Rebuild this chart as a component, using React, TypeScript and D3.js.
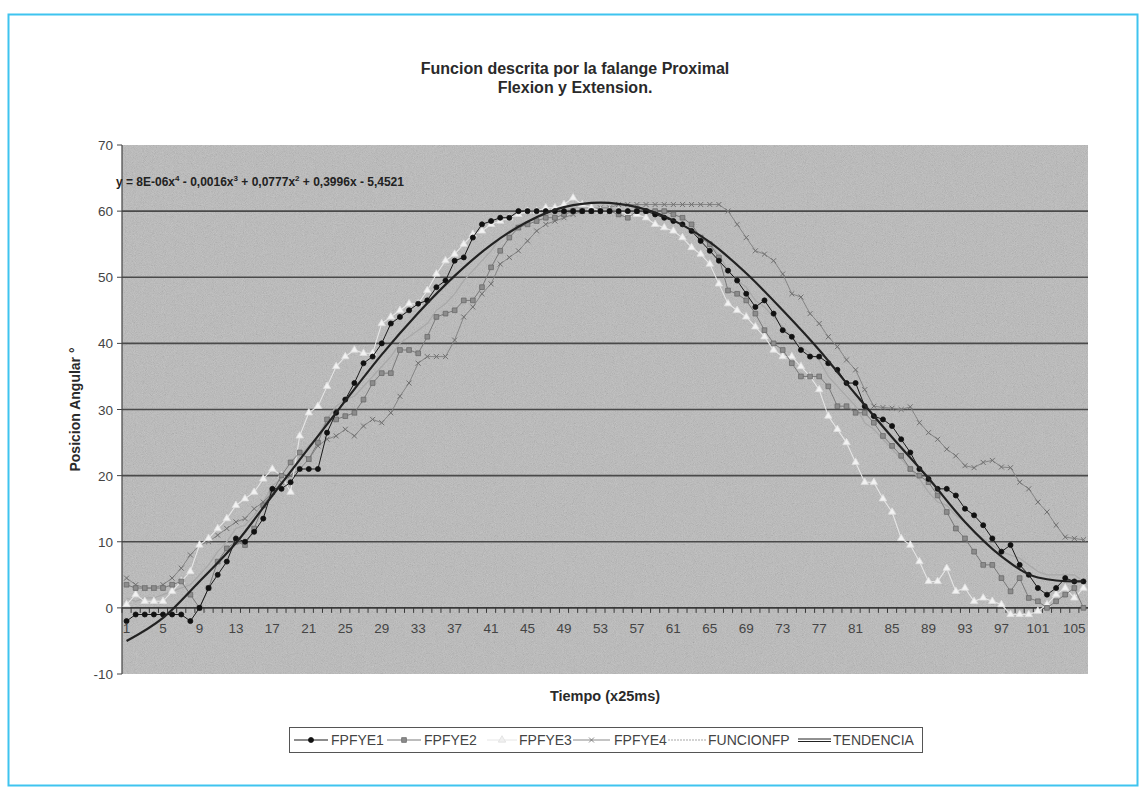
import React from 'react';
import * as d3 from 'd3';

const CATEGORIES: number[] = d3.range(1, 107);
const X_TICK_LABELS = ['1','5','9','13','17','21','25','29','33','37','41','45','49','53','57','61','65','69','73','77','81','85','89','93','97','101','105'];
const Y_TICKS = [-10, 0, 10, 20, 30, 40, 50, 60, 70];

const FPFYE1 = [
  -2, -1, -1, -1, -1, -1, -1, -2, 0, 3,
  5, 7, 10.5, 10, 11.5, 13.5, 18, 18, 19, 21,
  21, 21, 26.5, 29.5, 31.5, 34, 37, 38, 40, 43,
  44, 45, 46, 46.5, 48.5, 49.5, 52.5, 53, 56, 58,
  58.5, 59, 59, 60, 60, 60, 60, 60, 60, 60,
  60, 60, 60, 60, 60, 60, 60, 60, 59.5, 59,
  58.5, 58, 57, 55.5, 54, 52.5, 51, 49.5, 47.5, 45.5,
  46.5, 44.5, 42, 41, 39, 38, 38, 37, 36, 34,
  34, 30.5, 29, 28.5, 27.5, 25.5, 23.5, 21, 19.5, 18,
  18, 17, 15, 14, 12.5, 10.5, 8.5, 9.5, 6.5, 5,
  3, 2, 3, 4.5, 4, 4,
];
const FPFYE2 = [
  3.5, 3, 3, 3, 3, 3.5, 4, 2, 0, 3,
  7, 9, 10, 9.5, 12, 15.5, 17.5, 20, 22, 23.5,
  22.5, 25, 28.5, 28.5, 29, 29.5, 31.5, 34, 35.5, 35.5,
  39, 39, 38.5, 41, 44, 44.5, 45, 46.5, 46.5, 48.5,
  51.5, 54, 56, 57.5, 58, 58.5, 59, 59, 59.5, 60,
  60, 60, 60, 60, 59.5, 59, 60, 60, 60, 60,
  59.5, 59, 58, 56, 55, 53, 48, 47.5, 46.5, 44.5,
  42, 40, 39, 37, 35, 35, 35, 33.5, 30.5, 30.5,
  29.5, 29.5, 28, 26, 24.5, 23, 21, 20, 19, 17,
  14.5, 12, 10.5, 8.5, 6.5, 6.5, 4.5, 2.5, 4.5, 1.5,
  1, 0, 1, 2, 3, 0,
];
const FPFYE3 = [
  0.5, 2, 1, 1, 1, 2.5, 4, 5.5, 9.5, 10.5,
  12, 13.5, 15.5, 16.5, 17.5, 19.5, 21, 20, 17.5, 26,
  29.5, 30.5, 33.5, 36.5, 38, 39, 38.5, 38.5, 43, 44,
  45, 46, 46, 48, 50.5, 52.5, 53.5, 55, 56.5, 57,
  58, 58.5, 59, 59.5, 60, 60, 60.5, 60.5, 61, 62,
  61, 60.5, 60, 60, 60, 59.5, 59.5, 59, 58, 57.5,
  57, 56, 54.5, 53.5, 52, 49, 46, 45, 44, 42.5,
  41, 39, 38, 38, 36.5, 35, 33, 29, 27, 25,
  22, 19, 19, 16.5, 14.5, 10.5, 9.5, 7, 4, 4,
  6, 2.5, 3, 1, 1.5, 1, 0.5, -1, -1, -1,
  -0.5, 0.5, 2, 3, 1.5, 3,
];
const FPFYE4 = [
  4.5, 3.5, 3, 3, 3.5, 4.5, 6, 8, 9.5, 10,
  11, 12, 13, 13.5, 15, 16, 17.5, 19, 20, 21,
  22.5, 24.5, 25.5, 26, 27, 26, 27.5, 28.5, 28, 29.5,
  32, 34, 37, 38, 38, 38, 40.5, 44, 45.5, 47.5,
  49, 52, 53, 54, 55.5, 57, 58, 58.5, 59, 59.5,
  60, 60, 60.5, 60.5, 61, 61, 61, 61, 61, 61,
  61, 61, 61, 61, 61, 61, 60, 58, 56, 54,
  53.5, 52.5, 50.5, 47.5, 47, 44.5, 43, 41, 39.5, 37.5,
  36, 33, 30.5, 30.3, 30.2, 30, 30.4, 28, 26.5, 25.5,
  24, 23, 21.5, 21.2, 22, 22.3, 21.3, 21.2, 19, 18,
  16, 14.5, 12.5, 10.7, 10.5, 10.3,
];
const FUNCIONFP = [
  1.5, 1, 1.5, 1.5, 2, 2.5, 3, 3.5, 5, 6.5,
  8.5, 10, 12, 12.5, 14, 16, 18.5, 19.5, 19.5, 23,
  24.5, 26, 28.5, 30.5, 31.5, 32, 33.5, 35, 36.5, 38,
  40, 41, 42, 43, 45, 46, 47.5, 49.5, 51, 52.5,
  54, 56, 57, 58, 58.5, 59, 59.5, 59.5, 60, 60.5,
  60.5, 60.5, 60.5, 60.5, 60, 60, 60, 60, 59.5, 59,
  58.5, 58, 57, 56, 55, 53.5, 51, 49.5, 48.5, 46.5,
  45.5, 44, 42.5, 41, 39.5, 38.5, 37.5, 35, 33.5, 32,
  30.5, 28, 27, 25.5, 24, 22.5, 21, 19.5, 17.5, 16,
  15.5, 14, 13, 11.5, 10.5, 9.5, 8.5, 8, 7.5, 6.5,
  5.5, 5, 5, 5, 5, 4,
];
const TREND_CATS = [1, 5, 9, 13, 17, 21, 25, 29, 33, 37, 41, 45, 49, 53, 57, 61, 65, 69, 73, 77, 81, 85, 89, 93, 97, 101, 105, 106];
const TENDENCIA = [-5, -1.5, 4, 9.8, 17, 24.2, 31.3, 38.3, 44.6, 50.2, 54.9, 58.4, 60.6, 61.3, 60.6, 58.6, 55.3, 50.6, 45, 39, 32.3, 25.8, 19.6, 13, 7.8, 4.6, 4, 4];

const EQUATION = ['y = 8E-06x', '4', ' - 0,0016x', '3', ' + 0,0777x', '2', ' + 0,3996x - 5,4521'];
const TITLE = ['Funcion descrita por la falange Proximal', 'Flexion y Extension.'];
const LEGEND = ['FPFYE1', 'FPFYE2', 'FPFYE3', 'FPFYE4', 'FUNCIONFP', 'TENDENCIA'];

const W = 1143, H = 789;
const PL = 122, PR = 1088, PT = 145, PB = 674;
const FONT = 'Liberation Sans, Arial, Helvetica, sans-serif';

export default function App() {
  const xb = d3.scaleBand<number>().domain(CATEGORIES).range([PL, PR]).padding(0);
  const cx = (c: number) => (xb(c) as number) + xb.bandwidth() / 2;
  const y = d3.scaleLinear().domain([-10, 70]).range([PB, PT]);
  const y0 = y(0);

  const line = d3.line<number>().x((_, i) => cx(CATEGORIES[i])).y((v) => y(v));
  const trend = d3.line<number>().x((_, i) => cx(TREND_CATS[i])).y((v) => y(v)).curve(d3.curveMonotoneX);

  const sq = d3.symbol().type(d3.symbolSquare).size(22)();
  const tri = d3.symbol().type(d3.symbolTriangle).size(24)();
  const cross = d3.symbol().type(d3.symbolX).size(18)();
  const dot = d3.symbol().type(d3.symbolCircle).size(20)();

  const legendItems = [
    { x1: 294, x2: 328, tx: 331, stroke: '#1a1a1a', w: 1, m: dot, mf: '#111', ms: '#111' },
    { x1: 387, x2: 421, tx: 424, stroke: '#7a7a7a', w: 1, m: sq, mf: '#8c8c8c', ms: '#6a6a6a' },
    { x1: 487, x2: 517, tx: 519, stroke: '#e6e6e6', w: 1, m: tri, mf: '#f0f0f0', ms: '#e0e0e0' },
    { x1: 573, x2: 610, tx: 614, stroke: '#8a8a8a', w: 1, m: cross, mf: 'none', ms: '#707070' },
    { x1: 668, x2: 706, tx: 708, stroke: '#a8a8a8', w: 1.2, m: null, mf: '', ms: '' },
    { x1: 798, x2: 831, tx: 833, stroke: '#222', w: 2.4, m: null, mf: '', ms: '' },
  ];

  const markers = (vals: number[], path: string | null, fill: string, stroke: string, sw = 0.8) =>
    path ? vals.map((v, i) => (
      <path key={i} d={path} transform={`translate(${cx(CATEGORIES[i])},${y(v)})`} fill={fill} stroke={stroke} strokeWidth={sw} />
    )) : null;

  return (
    <svg width={W} height={H} viewBox={`0 0 ${W} ${H}`} style={{ position: 'absolute', left: 0, top: 0, background: '#fff' }} fontFamily={FONT}>
      <defs>
        <filter id="grain" x="0" y="0" width="100%" height="100%">
          <feTurbulence type="fractalNoise" baseFrequency="1.1" numOctaves="2" seed="7" />
          <feColorMatrix type="matrix" values="0.33 0.33 0.33 0 0  0.33 0.33 0.33 0 0  0.33 0.33 0.33 0 0  0 0 0 0 1" />
        </filter>
        <clipPath id="plotclip"><rect x={PL} y={PT} width={PR - PL} height={PB - PT} /></clipPath>
      </defs>
      <rect x={0} y={0} width={W} height={H} fill="#fff" />
      <rect x={8.5} y={14.5} width={1129} height={771} fill="none" stroke="#3fc4ef" strokeWidth={2} />

      {TITLE.map((t, i) => (
        <text key={t} x={575} y={74 + i * 19} textAnchor="middle" fontSize={16} fontWeight="bold" fill="#2a2a2a">{t}</text>
      ))}

      <rect x={PL} y={PT} width={PR - PL} height={PB - PT} fill="#bbbbbb" />
      <rect x={PL} y={PT} width={PR - PL} height={PB - PT} filter="url(#grain)" opacity={0.3} />

      {Y_TICKS.filter((t) => t > 0 && t < 70).map((t) => (
        <line key={t} x1={PL} x2={PR} y1={y(t)} y2={y(t)} stroke="#4a4a4a" strokeWidth={1.6} />
      ))}

      <line x1={PL} x2={PL} y1={PT} y2={PB} stroke="#444" strokeWidth={1.2} />
      {Y_TICKS.map((t) => (
        <g key={t}>
          <line x1={PL - 5} x2={PL} y1={y(t)} y2={y(t)} stroke="#444" strokeWidth={1} />
          <text x={113} y={y(t) + 5} textAnchor="end" fontSize={13.5} fill="#444">{t}</text>
        </g>
      ))}

      <line x1={PL} x2={PR} y1={y0} y2={y0} stroke="#3a3a3a" strokeWidth={1.6} />
      {CATEGORIES.map((c) => (
        <line key={c} x1={xb(c) as number} x2={xb(c) as number} y1={y0} y2={y0 + 5} stroke="#3a3a3a" strokeWidth={1} />
      ))}
      {X_TICK_LABELS.map((l) => (
        <text key={l} x={cx(+l)} y={y0 + 25} textAnchor="middle" fontSize={13.5} fill="#444">{l}</text>
      ))}

      <g clipPath="url(#plotclip)">
        <path d={line(FUNCIONFP) as string} fill="none" stroke="#a8a8a8" strokeWidth={1.2} />
        <path d={line(FPFYE4) as string} fill="none" stroke="#858585" strokeWidth={1} />
        {markers(FPFYE4, cross, 'none', '#707070', 1)}
        <path d={line(FPFYE3) as string} fill="none" stroke="#e6e6e6" strokeWidth={1.1} />
        {markers(FPFYE3, tri, '#f2f2f2', '#dedede')}
        <path d={line(FPFYE2) as string} fill="none" stroke="#7a7a7a" strokeWidth={1} />
        {markers(FPFYE2, sq, '#8c8c8c', '#6a6a6a')}
        <path d={line(FPFYE1) as string} fill="none" stroke="#1a1a1a" strokeWidth={1} />
        {markers(FPFYE1, dot, '#111', '#111')}
        <path d={trend(TENDENCIA) as string} fill="none" stroke="#222" strokeWidth={2.2} />
      </g>

      <text x={116} y={186} fontSize={12} fontWeight="bold" fill="#222">
        {EQUATION.map((s, i) => (i % 2 === 1
          ? <tspan key={i} fontSize={8} dy={-5}>{s}</tspan>
          : <tspan key={i} dy={i === 0 ? 0 : 5}>{s}</tspan>))}
      </text>

      <text transform={`translate(80,${(PT + PB) / 2}) rotate(-90)`} textAnchor="middle" fontSize={14} fontWeight="bold" fill="#2a2a2a">Posicion Angular °</text>
      <text x={(PL + PR) / 2} y={701} textAnchor="middle" fontSize={14.5} fontWeight="bold" fill="#2a2a2a">Tiempo (x25ms)</text>

      <rect x={289.5} y={727.5} width={633} height={25} fill="#fff" stroke="#555" strokeWidth={1} />
      {legendItems.map((it, i) => (
        <g key={LEGEND[i]}>
          {i === 5 ? (
            <g>
              <line x1={it.x1} x2={it.x2} y1={739} y2={739} stroke="#222" strokeWidth={1} />
              <line x1={it.x1} x2={it.x2} y1={741.5} y2={741.5} stroke="#222" strokeWidth={1} />
            </g>
          ) : (
            <line x1={it.x1} x2={it.x2} y1={740} y2={740} stroke={it.stroke} strokeWidth={it.w} strokeDasharray={i === 4 ? '2 1' : undefined} />
          )}
          {it.m && <path d={it.m} transform={`translate(${(it.x1 + it.x2) / 2},740)`} fill={it.mf} stroke={it.ms} strokeWidth={0.8} />}
          <text x={it.tx} y={745} fontSize={14} fill="#444">{LEGEND[i]}</text>
        </g>
      ))}
    </svg>
  );
}
